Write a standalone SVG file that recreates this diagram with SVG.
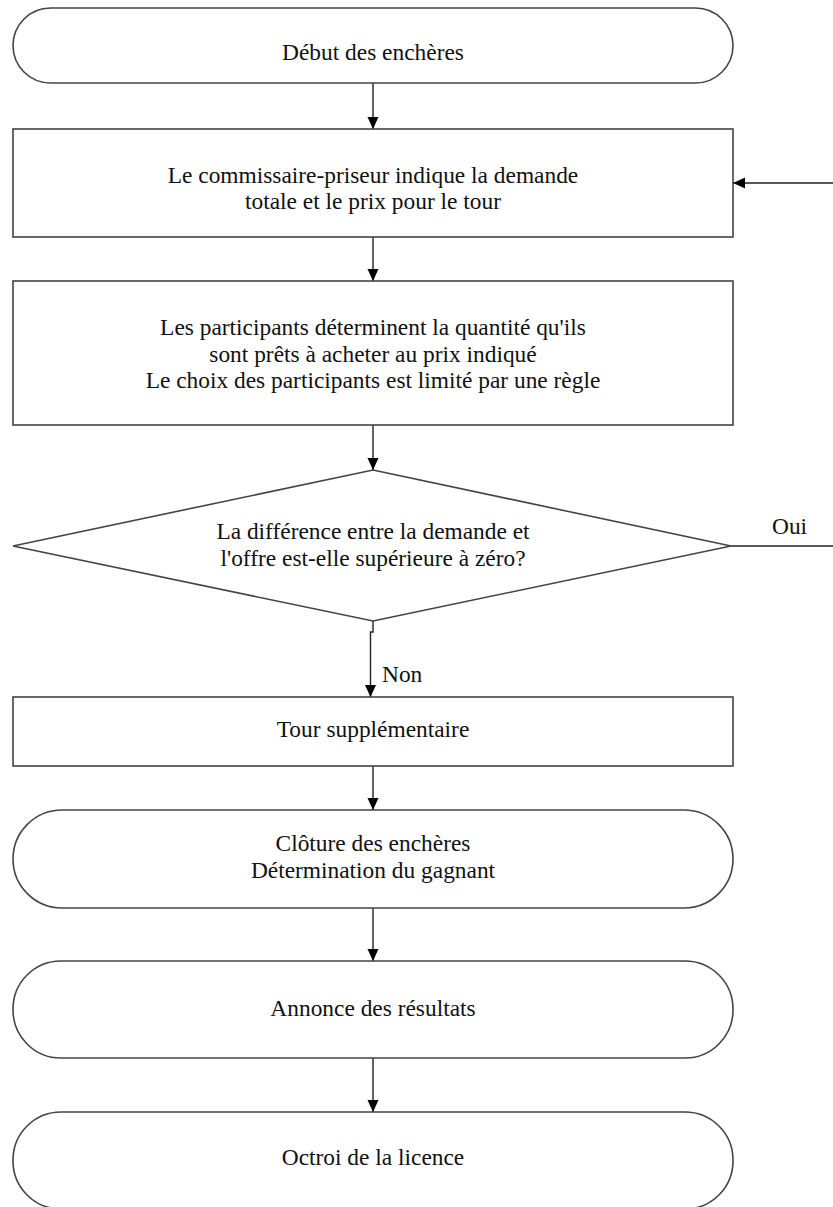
<svg xmlns="http://www.w3.org/2000/svg" width="833" height="1207" viewBox="0 0 833 1207">
<style>
.shape{fill:#fff;stroke:#444;stroke-width:1.6}
.edge{fill:none;stroke:#222;stroke-width:1.4}
text{font-family:"Liberation Serif","Times New Roman",serif;font-size:23.4px;fill:#111;text-anchor:middle}
.lbl{text-anchor:start}
</style>
<defs>
<marker id="arr" viewBox="0 0 12 12" refX="12" refY="6" markerWidth="12" markerHeight="12" markerUnits="userSpaceOnUse" orient="auto">
<path d="M0,0.5 L12,6 L0,11.5 Z" fill="#000"/>
</marker>
</defs>
<rect width="833" height="1207" fill="#fff"/>
<g id="connectors">
<path class="edge" d="M373,83 V129" marker-end="url(#arr)"/>
<path class="edge" d="M833,183 H733" marker-end="url(#arr)"/>
<path class="edge" d="M373,237 V281" marker-end="url(#arr)"/>
<path class="edge" d="M373,425 V470" marker-end="url(#arr)"/>
<path class="edge" d="M731,546 H833"/>
<path class="edge" d="M373,621 V632 H370.5 V697" marker-end="url(#arr)"/>
<path class="edge" d="M373,766 V810" marker-end="url(#arr)"/>
<path class="edge" d="M373,908 V961" marker-end="url(#arr)"/>
<path class="edge" d="M373,1058 V1112" marker-end="url(#arr)"/>
<text class="lbl" x="772" y="534">Oui</text>
<text class="lbl" x="382" y="682">Non</text>
</g>
<g id="n1">
<rect class="shape" x="13" y="8" width="720" height="75" rx="37.5" ry="37.5"/>
<text x="373" y="60">Début des enchères</text>
</g>
<g id="n2">
<rect class="shape" x="13" y="129" width="720" height="108"/>
<text x="373" y="183">Le commissaire-priseur indique la demande</text>
<text x="373" y="209">totale et le prix pour le tour</text>
</g>
<g id="n3">
<rect class="shape" x="13" y="281" width="720" height="144"/>
<text x="373" y="335">Les participants déterminent la quantité qu'ils</text>
<text x="373" y="362">sont prêts à acheter au prix indiqué</text>
<text x="373" y="388">Le choix des participants est limité par une règle</text>
</g>
<g id="n4">
<polygon class="shape" points="373,470 731,546 373,621 13,546"/>
<text x="373" y="539">La différence entre la demande et</text>
<text x="373" y="566">l'offre est-elle supérieure à zéro?</text>
</g>
<g id="n5">
<rect class="shape" x="13" y="697" width="720" height="69"/>
<text x="373" y="737">Tour supplémentaire</text>
</g>
<g id="n6">
<rect class="shape" x="13" y="810" width="720" height="98" rx="49" ry="49"/>
<text x="373" y="851">Clôture des enchères</text>
<text x="373" y="878">Détermination du gagnant</text>
</g>
<g id="n7">
<rect class="shape" x="13" y="961" width="720" height="97" rx="48" ry="48"/>
<text x="373" y="1016">Annonce des résultats</text>
</g>
<g id="n8">
<rect class="shape" x="13" y="1112" width="720" height="97" rx="48" ry="48"/>
<text x="373" y="1165">Octroi de la licence</text>
</g>
</svg>
